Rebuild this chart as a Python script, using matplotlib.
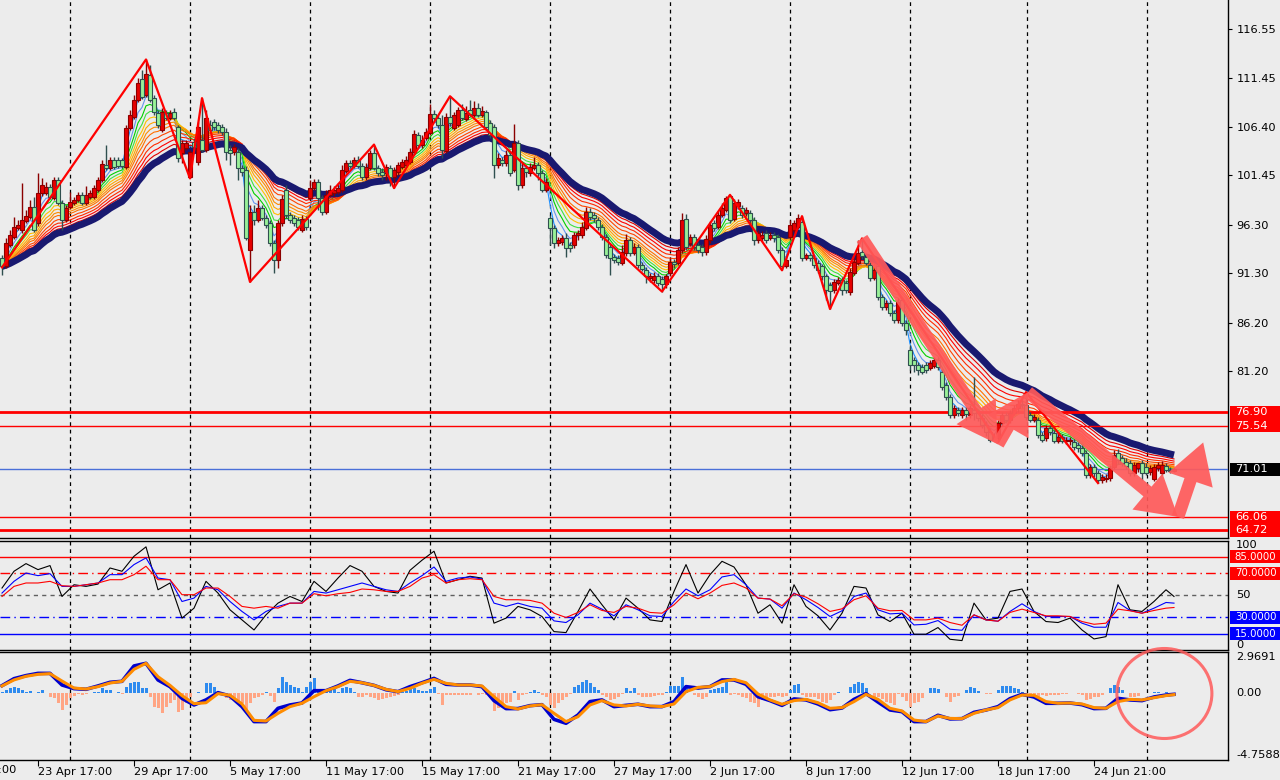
import numpy as np
import pandas as pd
import matplotlib
matplotlib.use('Agg')
import matplotlib.pyplot as plt
import matplotlib.transforms as mtransforms
from matplotlib.patches import FancyArrowPatch, Ellipse, Rectangle

# ---- H4 price bars, oldest first ----
opens = [
    92.9, 92.0, 94.2, 95.0, 96.0, 95.8, 96.7, 97.1, 98.1, 96.5,
    99.6, 99.6, 100.2, 99.1, 100.9, 98.6, 96.8, 98.1, 98.6, 98.9,
    99.4, 98.6, 99.2, 99.2, 99.9, 100.9, 102.5, 102.2, 103.0, 103.0,
    103.0, 102.3, 106.3, 107.5, 109.2, 111.4, 109.7, 111.8, 109.4, 107.9,
    106.1, 107.9, 107.4, 108.0, 106.4, 103.7, 104.2, 101.2, 104.9, 102.8,
    105.1, 104.0, 106.6, 106.9, 106.6, 106.4, 105.9, 104.0, 103.8, 103.8,
    102.2, 102.0, 93.7, 97.6, 96.8, 98.0, 97.0, 96.5, 94.4, 92.7,
    96.5, 99.9, 97.3, 97.0, 96.8, 95.8, 96.9, 99.1, 100.1, 100.7,
    99.1, 97.6, 99.4, 99.6, 99.7, 99.9, 101.9, 102.7, 102.4, 103.0,
    102.4, 101.2, 102.2, 103.7, 102.2, 101.8, 101.7, 102.2, 101.2, 101.8,
    102.3, 102.5, 102.8, 103.8, 105.6, 104.6, 105.3, 105.8, 107.8, 107.4,
    106.6, 103.9, 107.5, 106.3, 106.6, 108.2, 107.2, 108.2, 107.7, 108.4,
    107.7, 108.0, 106.8, 106.4, 102.5, 103.0, 102.7, 103.5, 102.0, 104.8,
    100.4, 102.2, 101.7, 102.2, 102.5, 101.7, 99.9, 97.0, 96.0, 94.4,
    94.5, 94.9, 94.2, 94.2, 95.2, 95.3, 96.0, 97.6, 97.3, 96.8,
    96.1, 95.0, 94.0, 93.0, 92.9, 92.4, 93.4, 94.7, 93.4, 94.0,
    92.2, 91.6, 90.8, 90.6, 91.0, 90.7, 90.2, 91.3, 92.5, 92.4,
    93.7, 96.9, 94.4, 95.0, 94.2, 94.0, 93.5, 94.7, 96.5, 96.1,
    97.3, 97.8, 99.3, 96.9, 98.2, 98.0, 97.5, 97.5, 96.8, 94.7,
    94.9, 95.5, 94.9, 95.3, 95.0, 93.7, 92.0, 95.0, 95.8, 96.1,
    96.6, 92.9, 93.2, 92.9, 92.4, 92.0, 91.0, 90.1, 89.6, 90.3,
    90.6, 90.3, 89.4, 91.3, 92.4, 93.5, 93.0, 92.2, 90.8, 92.0,
    88.8, 87.8, 88.2, 87.2, 86.5, 88.5, 86.2, 83.4, 82.3, 81.8,
    81.6, 81.8, 81.5, 81.7, 82.3, 81.1, 79.7, 78.5, 76.6, 77.2,
    76.6, 77.2, 76.6, 77.2, 76.8, 76.3, 75.6, 74.9, 74.1, 74.3,
    75.8, 76.6, 76.1, 76.8, 77.4, 77.8, 77.7, 76.6, 76.1, 76.1,
    74.6, 74.3, 75.3, 74.8, 74.0, 74.4, 74.0, 74.0, 73.8, 73.5,
    73.2, 72.7, 70.4, 71.3, 70.6, 69.9, 70.0, 70.1, 71.3, 72.7,
    72.2, 71.8, 71.7, 70.6, 71.2, 71.7, 71.3, 70.7, 70.0, 71.2,
    70.6, 71.4, 71.0, 70.8]
highs = [
    93.2, 94.9, 95.8, 97.1, 96.8, 100.6, 97.8, 98.9, 99.2, 101.7,
    101.1, 100.7, 100.5, 101.2, 101.2, 98.9, 98.4, 99.7, 99.2, 99.7,
    99.7, 100.3, 99.9, 100.4, 101.2, 103.0, 104.6, 103.3, 103.3, 103.3,
    103.2, 106.6, 108.2, 109.7, 111.5, 112.3, 113.4, 112.8, 109.7, 108.2,
    108.4, 108.2, 108.2, 108.4, 106.6, 105.1, 105.1, 104.0, 105.3, 106.9,
    109.4, 108.2, 107.1, 107.2, 106.9, 106.7, 106.3, 104.6, 104.7, 104.2,
    102.5, 102.4, 98.4, 98.4, 98.9, 98.4, 97.3, 96.8, 94.7, 96.8,
    99.4, 100.4, 97.6, 97.3, 97.1, 97.3, 97.2, 100.9, 101.0, 101.0,
    99.4, 99.9, 100.4, 100.3, 100.6, 102.5, 103.0, 103.0, 103.3, 103.4,
    102.7, 102.7, 104.0, 104.6, 102.5, 102.2, 102.6, 102.5, 102.3, 102.8,
    103.1, 103.4, 104.2, 106.1, 105.9, 105.6, 106.3, 108.8, 108.2, 107.7,
    107.7, 107.9, 109.6, 108.0, 108.5, 108.8, 108.6, 109.2, 109.1, 108.9,
    108.6, 108.2, 107.1, 106.7, 103.7, 103.3, 104.0, 103.8, 106.7, 105.1,
    102.7, 102.5, 102.7, 103.3, 102.8, 102.0, 101.1, 97.3, 96.3, 95.0,
    95.3, 95.5, 94.5, 95.6, 95.8, 96.6, 98.1, 98.0, 97.6, 97.1,
    96.4, 95.4, 94.3, 93.3, 93.2, 94.2, 95.4, 95.0, 94.4, 94.3,
    92.5, 91.9, 91.3, 91.4, 91.3, 91.0, 91.2, 92.9, 92.8, 94.0,
    97.5, 97.4, 95.4, 95.4, 94.5, 94.3, 95.3, 96.7, 96.8, 97.7,
    98.6, 99.3, 99.4, 99.0, 99.0, 98.4, 98.1, 97.8, 97.1, 95.8,
    95.7, 95.8, 95.6, 95.6, 95.4, 94.0, 93.0, 96.8, 96.8, 97.4,
    97.2, 93.4, 93.5, 93.2, 92.7, 92.3, 91.2, 90.4, 90.7, 90.9,
    90.9, 90.6, 91.8, 92.9, 94.7, 94.9, 93.3, 92.5, 91.9, 92.3,
    89.1, 88.5, 88.5, 87.5, 88.7, 88.8, 86.5, 83.9, 82.6, 82.1,
    81.9, 82.1, 82.3, 82.6, 82.6, 81.4, 80.1, 78.8, 77.7, 77.5,
    77.5, 77.5, 77.7, 80.6, 77.2, 76.7, 76.0, 75.3, 74.8, 76.1,
    76.9, 76.9, 77.2, 77.7, 78.2, 78.4, 79.0, 76.9, 76.7, 76.4,
    74.9, 75.6, 75.6, 75.1, 74.9, 74.7, 74.4, 74.4, 74.2, 73.8,
    73.5, 73.0, 71.6, 71.6, 70.9, 70.5, 70.5, 71.5, 73.0, 73.1,
    72.5, 72.2, 72.0, 71.8, 71.7, 72.0, 71.7, 71.5, 71.6, 71.8,
    71.9, 71.7, 71.3, 71.2]
lows = [
    91.1, 91.8, 94.0, 94.8, 95.8, 95.5, 96.5, 96.9, 95.6, 96.2,
    99.3, 99.4, 99.0, 98.9, 98.4, 95.8, 96.6, 97.9, 98.4, 98.7,
    98.4, 98.4, 99.0, 99.0, 99.7, 100.7, 102.0, 102.0, 102.1, 102.2,
    102.2, 102.1, 106.1, 107.2, 109.0, 109.3, 109.5, 109.0, 107.7, 106.3,
    105.9, 107.1, 107.1, 107.1, 102.8, 102.7, 104.0, 101.1, 104.0, 102.5,
    103.8, 103.8, 105.9, 106.1, 105.8, 105.6, 103.0, 102.5, 103.5, 100.9,
    101.4, 94.7, 90.4, 96.3, 96.6, 96.8, 96.0, 94.1, 91.3, 91.8,
    96.2, 97.0, 96.5, 96.2, 95.8, 95.6, 95.8, 98.9, 99.9, 97.8,
    97.3, 97.4, 99.2, 99.3, 99.5, 99.7, 101.7, 102.2, 102.2, 102.2,
    100.9, 100.9, 102.0, 102.0, 101.4, 100.9, 100.9, 100.3, 100.1, 101.5,
    102.1, 102.3, 102.6, 103.5, 104.2, 104.2, 105.1, 105.6, 107.0, 106.3,
    103.2, 103.7, 106.5, 106.1, 106.4, 107.1, 107.0, 107.6, 107.5, 107.5,
    107.5, 106.1, 105.3, 101.1, 102.2, 102.4, 102.4, 101.4, 101.8, 99.9,
    100.1, 101.2, 101.4, 102.0, 100.9, 99.7, 99.7, 94.2, 93.9, 94.1,
    94.2, 93.0, 93.5, 93.9, 94.7, 94.9, 95.8, 96.8, 96.6, 95.8,
    94.7, 92.9, 91.1, 92.4, 92.1, 92.1, 93.1, 93.1, 93.2, 91.8,
    91.5, 90.3, 90.4, 90.3, 90.0, 89.4, 89.8, 91.0, 91.8, 92.1,
    93.4, 93.7, 94.1, 93.7, 93.4, 93.1, 93.2, 94.4, 95.7, 95.9,
    97.1, 97.6, 96.5, 96.7, 97.9, 97.0, 97.2, 96.3, 94.2, 94.4,
    94.6, 94.4, 94.7, 94.5, 93.4, 91.6, 91.8, 94.7, 95.6, 95.9,
    92.6, 92.7, 92.6, 91.8, 91.3, 90.6, 88.5, 87.6, 89.3, 90.1,
    89.0, 89.3, 89.0, 91.1, 92.1, 92.8, 92.1, 90.5, 90.6, 88.5,
    87.5, 87.5, 86.9, 86.2, 86.2, 85.8, 84.9, 81.3, 81.1, 80.8,
    80.9, 81.0, 81.3, 81.5, 81.3, 79.2, 78.2, 76.3, 76.3, 76.5,
    76.3, 76.1, 76.3, 76.1, 76.0, 75.3, 74.5, 73.8, 73.9, 73.8,
    75.5, 75.8, 75.8, 76.6, 77.0, 77.4, 76.1, 75.9, 75.9, 74.3,
    73.8, 74.0, 74.6, 73.7, 73.7, 73.7, 73.6, 73.5, 73.0, 72.8,
    72.4, 70.1, 70.1, 70.2, 69.6, 69.6, 69.7, 69.8, 71.1, 71.6,
    71.4, 71.1, 70.3, 70.3, 70.7, 69.9, 70.4, 70.4, 69.8, 70.8,
    70.4, 70.7, 70.6, 70.7]
closes = [
    92.0, 94.4, 95.3, 96.1, 96.3, 96.8, 97.2, 98.1, 95.8, 99.6,
    100.4, 100.2, 99.2, 100.9, 98.6, 96.8, 98.0, 98.7, 98.9, 99.4,
    98.6, 99.4, 99.6, 100.1, 100.9, 102.6, 102.2, 103.0, 102.3, 102.4,
    102.4, 106.3, 107.7, 109.2, 111.0, 109.5, 111.9, 109.2, 108.0, 106.6,
    108.0, 107.4, 107.9, 107.4, 103.2, 104.8, 104.8, 103.8, 104.3, 106.4,
    104.0, 107.4, 106.1, 106.4, 106.1, 105.9, 103.8, 103.7, 104.3, 102.2,
    101.8, 94.9, 97.6, 96.8, 98.0, 97.0, 96.3, 94.4, 92.7, 96.5,
    99.0, 97.3, 96.8, 96.5, 96.1, 96.9, 96.1, 100.1, 100.7, 99.1,
    97.6, 99.4, 99.9, 99.9, 100.1, 102.0, 102.7, 102.4, 103.0, 102.4,
    101.2, 102.3, 103.7, 102.2, 101.7, 101.5, 102.3, 101.2, 102.0, 102.5,
    102.8, 103.0, 103.8, 105.7, 104.6, 105.1, 105.9, 107.8, 107.3, 106.6,
    104.0, 107.5, 106.8, 107.7, 108.2, 107.4, 107.9, 107.8, 108.4, 107.7,
    108.1, 106.4, 105.6, 102.5, 103.2, 102.7, 103.5, 101.7, 104.8, 100.4,
    102.2, 101.8, 102.3, 102.5, 101.7, 99.9, 100.7, 96.0, 94.4, 94.7,
    94.9, 93.9, 93.9, 95.3, 95.5, 96.1, 97.6, 97.1, 97.0, 96.1,
    95.0, 93.2, 92.9, 92.7, 92.5, 93.5, 94.7, 93.4, 94.0, 92.2,
    91.7, 91.0, 91.0, 91.0, 90.3, 90.2, 91.0, 92.5, 92.3, 93.7,
    96.8, 94.0, 95.0, 94.0, 93.7, 93.5, 94.8, 96.3, 96.0, 97.3,
    98.0, 99.1, 96.8, 98.6, 98.7, 97.3, 97.8, 96.8, 94.7, 95.5,
    95.3, 94.7, 95.3, 94.9, 93.7, 92.0, 92.7, 96.3, 96.5, 97.0,
    92.9, 93.2, 92.9, 92.2, 91.6, 91.0, 89.6, 89.5, 90.4, 90.6,
    89.6, 89.6, 91.4, 92.5, 93.4, 93.1, 92.4, 90.8, 91.6, 88.8,
    87.8, 88.2, 87.2, 86.5, 88.3, 86.2, 85.4, 81.8, 81.8, 81.3,
    81.1, 81.3, 82.0, 82.3, 81.6, 79.5, 78.5, 76.6, 77.4, 76.8,
    77.2, 76.7, 77.4, 76.8, 76.3, 75.6, 74.9, 74.1, 74.4, 75.8,
    76.6, 76.1, 76.8, 77.4, 77.8, 77.7, 76.4, 76.1, 76.4, 74.6,
    74.1, 75.3, 74.9, 74.0, 74.4, 74.0, 74.1, 74.1, 73.3, 73.2,
    72.7, 70.4, 71.3, 70.6, 69.9, 70.2, 70.1, 71.2, 72.5, 72.0,
    71.7, 71.4, 70.6, 71.5, 71.7, 70.6, 70.6, 71.2, 71.3, 71.5,
    71.5, 71.0, 70.8, 71.01]

# zigzag pivots (bar index, price)
zz_bar = [0, 36, 47, 50, 62, 93, 98, 112, 165, 182, 195, 200, 207, 215, 249, 256, 274]
zz_price = [91.9, 113.4, 101.1, 109.4, 90.4, 104.6, 100.1, 109.6, 89.4, 99.4, 91.6, 97.2,
            87.6, 94.9, 73.8, 79.0, 69.6]

# hand-drawn arrows (bar, price)
arrow_from = [(215, 94.9), (249, 73.6), (256.5, 79.0), (294, 66.1)]
arrow_to = [(249, 73.6), (256.5, 79.0), (294, 66.1), (300.3, 73.8)]

levels = [76.90, 75.54, 66.06, 64.72]
level_width = [2.0, 1.0, 1.0, 2.0]
last_price = 71.01
price_ticks = [116.55, 111.45, 106.40, 101.45, 96.30, 91.30, 86.20, 81.20]

ribbon_periods = [3, 5, 7, 9, 11, 13, 15, 17, 20, 23, 26, 29]
ribbon_colors = ['#1E90FF', '#6495ED', '#00D000', '#40E040', '#FFC000', '#FFA500',
                 '#FF8C00', '#FF7000', '#FF4500', '#FF2A00', '#FF0000', '#E00000']
navy_period = 34

grid_bars = [17, 47, 77, 107, 137, 167, 197, 227, 256.25, 286.25]
tick_bars = [9, 33, 57, 81, 105, 129, 153, 177, 201, 225, 249, 273]
tick_text = ['23 Apr 17:00', '29 Apr 17:00', '5 May 17:00', '11 May 17:00', '15 May 17:00',
             '21 May 17:00', '27 May 17:00', '2 Jun 17:00', '8 Jun 17:00', '12 Jun 17:00',
             '18 Jun 17:00', '24 Jun 21:00']

# oscillators, sampled every 3 bars
osc_bar = list(range(0, 292, 3)) + [293]
rsi_black = [
    56.6, 71.9, 78.9, 73.4, 77.1, 48.9, 59.6, 58.1, 60.2, 74.9, 71.9, 85.6, 94.2, 55.0, 61.2,
    29.1, 38.2, 62.7, 52.0, 36.7, 27.5, 18.3, 32.1, 42.8, 48.9, 44.3, 62.7, 53.5, 65.7, 77.1,
    71.9, 58.1, 53.5, 52.0,
    72.8, 82.0, 90.2, 61.2, 64.2, 67.3, 65.7, 24.5, 29.1, 39.8, 36.7, 30.6, 16.8, 15.9, 35.2,
    55.7, 41.3, 27.5, 47.4, 38.2, 27.5, 26.0, 53.5, 78.0, 52.0, 68.8, 81.0, 75.8, 59.6, 33.6,
    41.3, 24.5, 59.6, 39.8, 31.2,
    18.3, 33.6, 58.1, 56.6, 32.1, 26.0, 33.6, 14.4, 14.4, 20.5, 9.8, 8.6, 42.8, 27.5, 29.1,
    53.5, 55.7, 35.2, 26.0, 25.1, 29.1, 18.3, 10.1, 12.2, 59.6, 36.7, 35.2, 44.3, 55.0, 48.9]
rsi_blue = [
    52.0, 62.7, 70.3, 67.9, 69.7, 58.1, 58.1, 59.6, 61.2, 68.8, 68.8, 78.0, 84.1, 65.7, 64.2,
    44.3, 47.4, 58.1, 55.0, 44.3, 35.2, 27.5, 35.2, 39.8, 42.8, 42.8, 53.5, 52.0, 55.0, 58.1,
    61.2, 58.1, 55.0, 53.5,
    61.2, 67.9, 75.8, 62.7, 65.7, 66.7, 64.8, 42.8, 39.8, 42.8, 39.8, 38.2, 26.6, 25.1, 32.1,
    42.8, 37.3, 31.2, 41.3, 36.7, 31.2, 30.6, 44.3, 55.7, 49.5, 55.0, 66.7, 68.8, 59.6, 47.4,
    46.5, 38.2, 52.0, 45.9, 38.8,
    30.6, 35.8, 48.9, 52.0, 36.7, 33.0, 33.6, 22.9, 23.5, 26.9, 19.0, 18.0, 32.1, 27.5, 26.3,
    35.2, 42.2, 35.2, 30.6, 30.6, 30.6, 24.5, 20.8, 20.8, 43.4, 36.1, 33.6, 38.2, 43.4, 42.8]
rsi_red = [
    48.9, 58.1, 61.2, 61.2, 62.7, 58.7, 58.1, 59.6, 61.2, 64.2, 64.2, 68.8, 76.5, 64.2, 64.2,
    50.5, 50.5, 56.6, 56.6, 48.9, 39.8, 38.2, 39.8, 38.2, 42.8, 42.8, 51.4, 49.5, 51.4, 52.6,
    55.7, 55.0, 53.5, 53.5,
    58.1, 65.7, 68.8, 61.2, 64.2, 65.1, 64.2, 48.9, 45.9, 45.9, 45.3, 42.8, 33.6, 29.7, 34.3,
    41.3, 36.1, 34.3, 39.8, 38.2, 34.3, 33.6, 41.3, 52.0, 46.8, 52.0, 59.0, 61.2, 56.6, 47.4,
    46.5, 40.4, 51.4, 48.3, 42.2,
    35.2, 37.6, 45.9, 49.5, 38.2, 35.8, 36.1, 27.5, 27.5, 29.1, 25.1, 22.6, 32.1, 27.5, 26.3,
    34.3, 37.3, 34.3, 31.2, 31.2, 30.6, 26.0, 23.5, 24.5, 37.3, 35.8, 33.6, 36.1, 38.2, 38.8]
rsi_levels = [85, 70, 30, 15]

macd_main = [
    0.56, 1.06, 1.28, 1.44, 1.44, 0.61, 0.35, 0.30, 0.54, 0.80, 0.87, 1.97, 2.16, 0.97, 0.49,
    -0.35, -0.82, -0.46, 0.06, -0.18, -0.94, -2.01, -2.01, -1.06, -0.82, -0.68, 0.20, 0.20,
    0.54, 0.94, 0.77, 0.58, 0.27, 0.13,
    0.49, 0.77, 1.08, 0.66, 0.61, 0.61, 0.49, -0.51, -1.08, -1.08, -0.87, -0.80, -1.85, -2.13,
    -1.54, -0.58, -0.46, -0.94, -0.85, -0.77, -0.94, -0.94, -0.58, 0.49, 0.39, 0.49, 0.97,
    0.97, 0.66, -0.23, -0.51, -0.85, -0.39, -0.46, -0.75,
    -1.16, -1.04, -0.42, -0.01, -0.61, -1.18, -1.30, -2.01, -2.01, -1.56, -1.82, -1.80, -1.35,
    -1.18, -0.94, -0.37, -0.06, -0.25, -0.70, -0.70, -0.68, -0.80, -1.08, -1.06, -0.35, -0.46,
    -0.51, -0.25, -0.11, -0.06]
macd_signal = [
    0.54, 0.97, 1.23, 1.37, 1.42, 0.89, 0.39, 0.32, 0.49, 0.75, 0.87, 1.73, 2.16, 1.20, 0.58,
    -0.15, -0.73, -0.66, -0.01, -0.13, -0.75, -1.92, -1.97, -1.42, -0.94, -0.70, -0.23, 0.20,
    0.49, 0.87, 0.77, 0.58, 0.30, 0.13,
    0.37, 0.73, 1.01, 0.73, 0.61, 0.61, 0.54, -0.23, -0.94, -1.11, -0.89, -0.80, -1.42, -2.01,
    -1.66, -0.82, -0.51, -0.82, -0.89, -0.77, -0.89, -0.94, -0.75, 0.13, 0.44, 0.49, 0.85,
    1.01, 0.77, -0.04, -0.46, -0.77, -0.51, -0.42, -0.66,
    -1.06, -1.01, -0.58, -0.06, -0.42, -1.06, -1.25, -1.90, -2.01, -1.61, -1.78, -1.80, -1.42,
    -1.18, -1.01, -0.46, -0.11, -0.13, -0.58, -0.70, -0.68, -0.75, -1.01, -1.06, -0.58, -0.42,
    -0.46, -0.30, -0.15, -0.08]
macd_hist = [
    0.13, 0.25, 0.42, 0.49, 0.37, 0.25, 0.13, 0.18, 0.01, 0.13,
    0.25, 0.01, -0.23, -0.35, -0.70, -1.18, -0.82, -0.35, -0.18, -0.06,
    -0.11, -0.04, 0.06, 0.13, 0.13, 0.37, 0.25, 0.25, 0.06, 0.13,
    -0.04, 0.49, 0.73, 0.85, 0.85, 0.37, 0.37, -0.23, -0.94, -1.06,
    -1.42, -0.94, -0.70, -0.46, -1.30, -1.18, -0.70, -0.23, 0.01, 0.13,
    0.06, 0.73, 0.73, 0.49, 0.13, -0.11, -0.35, -0.46, -0.42, -0.58,
    -0.70, -1.18, -0.70, -0.35, -0.23, -0.11, 0.13, -0.18, -0.58, 0.37,
    1.16, 0.85, 0.61, 0.49, 0.37, 0.13, 0.49, 0.85, 1.08, 0.25,
    0.13, 0.13, 0.25, 0.30, 0.13, 0.37, 0.49, 0.37, 0.13, -0.23,
    -0.27, -0.11, -0.23, -0.35, -0.46, -0.42, -0.35, -0.23, -0.18, -0.11,
    0.13, 0.20, 0.37, 0.37, 0.25, 0.20, 0.20, 0.30, 0.49, -0.04,
    -0.82, -0.11, -0.11, -0.11, -0.11, -0.11, -0.11, -0.11, 0.01, -0.11,
    -0.06, -0.11, -0.35, -1.23, -1.06, -0.82, -0.70, -0.58, 0.18, -0.46,
    -0.11, -0.04, 0.13, 0.25, 0.13, -0.11, -0.23, -0.82, -1.06, -0.70,
    -0.46, -0.23, -0.04, 0.49, 0.61, 0.85, 0.97, 0.73, 0.49, 0.25,
    -0.11, -0.23, -0.46, -0.42, -0.23, -0.04, 0.37, 0.20, 0.37, -0.11,
    -0.23, -0.27, -0.23, -0.18, -0.13, -0.11, 0.13, 0.54, 0.54, 0.54,
    1.20, 0.37, 0.06, -0.11, -0.23, -0.42, -0.23, 0.25, 0.30, 0.37,
    0.44, 0.85, -0.11, -0.04, -0.11, -0.23, -0.35, -0.58, -0.70, -0.94,
    -0.46, -0.35, -0.23, -0.23, -0.18, -0.23, -0.18, 0.25, 0.61, 0.68,
    -0.11, -0.23, -0.27, -0.23, -0.42, -0.58, -0.70, -0.46, -0.11, 0.13,
    0.06, 0.06, 0.49, 0.68, 0.85, 0.73, 0.37, 0.06, -0.23, -0.23,
    -0.42, -0.58, -0.70, -0.82, -0.04, -0.23, -0.51, -0.94, -0.70, -0.58,
    -0.35, 0.06, 0.37, 0.37, 0.30, 0.06, -0.23, -0.58, -0.23, -0.18,
    0.06, 0.25, 0.49, 0.37, 0.20, 0.06, -0.04, -0.04, 0.06, 0.25,
    0.54, 0.54, 0.54, 0.37, 0.30, 0.13, -0.11, -0.23, -0.23, -0.23,
    -0.13, -0.18, -0.11, -0.11, -0.08, -0.06, -0.04, 0.06, 0.04, -0.04,
    -0.11, -0.46, -0.42, -0.23, -0.23, -0.11, 0.06, 0.37, 0.61, 0.49,
    0.25, 0.06, -0.23, -0.23, -0.18, 0.01, 0.04, 0.06, 0.13, 0.13,
    0.06, 0.11, 0.06, 0.01]
macd_max, macd_min = 2.9691, -4.7588

# ---------------------------------------------------------------
bg = '#ECECEC'
n = min(len(opens), len(highs), len(lows), len(closes))
o = np.array(opens[:n]); h = np.array(highs[:n]); l = np.array(lows[:n]); c = np.array(closes[:n])
x = np.arange(n)

fig = plt.figure(figsize=(12.8, 7.8), dpi=100)
fig.patch.set_facecolor(bg)
W = 1228 / 1280
ax1 = fig.add_axes([0, 1 - 538 / 780, W, 538 / 780])
ax2 = fig.add_axes([0, 1 - 650 / 780, W, 109.5 / 780])
ax3 = fig.add_axes([0, 20 / 780, W, 108 / 780])

for ax in (ax1, ax2, ax3):
    ax.set_facecolor(bg)
    ax.set_xlim(-0.5, 306.5)
    ax.spines['left'].set_visible(False)
    for s in ('right', 'bottom', 'top'):
        ax.spines[s].set_color('black')
        ax.spines[s].set_linewidth(1.0)
    for g in grid_bars:
        ax.axvline(g, color='black', lw=0.9, ls=(0, (3, 3)), zorder=1)
ax1.spines['top'].set_visible(False)


def tag(ax, y, hh, txt, fc, size=8.2):
    tr = mtransforms.blended_transform_factory(ax.transAxes, ax.transData)
    ax.add_patch(Rectangle((1.0016, y - hh / 2), 0.05, hh, transform=tr, fc=fc, ec='none',
                           clip_on=False, zorder=10))
    ax.text(1.0055, y, txt, transform=tr, color='white', fontsize=size, va='center',
            ha='left', clip_on=False, zorder=11)


def side_text(ax, y, txt, va='center'):
    tr = mtransforms.blended_transform_factory(ax.transAxes, ax.transData)
    ax.text(1.0065, y, txt, transform=tr, color='black', fontsize=8.2, va=va, ha='left',
            clip_on=False)


# ---- main price window ----
ax1.set_ylim(63.92, 119.55)
s = pd.Series(c)
for p, col in zip(ribbon_periods, ribbon_colors):
    ax1.plot(x, s.ewm(span=p, adjust=False).mean(), color=col, lw=0.8, zorder=2)
ax1.plot(x, s.ewm(span=navy_period, adjust=False).mean(), color='#191970', lw=5,
         zorder=3, solid_capstyle='butt')

for lv, lw in zip(levels, level_width):
    ax1.axhline(lv, color='#FF0000', lw=lw, zorder=3.5)
ax1.axhline(last_price, color='#4A6FD8', lw=1, zorder=3.5)

up = c >= o
lo = np.minimum(o, c)
bh = np.maximum(np.abs(c - o), 0.05)
ax1.vlines(x[up], l[up], h[up], color='#8B0000', lw=1, zorder=4)
ax1.vlines(x[~up], l[~up], h[~up], color='#2F4F4F', lw=1, zorder=4)
ax1.bar(x[up], bh[up], bottom=lo[up], width=0.78, color='#E60000', edgecolor='#8B0000',
        linewidth=0.8, zorder=5)
ax1.bar(x[~up], bh[~up], bottom=lo[~up], width=0.78, color='#98F098', edgecolor='#2F4F4F',
        linewidth=0.8, zorder=5)

ax1.plot(zz_bar, zz_price, color='#FF0000', lw=1.6, zorder=6)

for a, b in zip(arrow_from, arrow_to):
    ax1.add_patch(FancyArrowPatch(a, b, arrowstyle='simple,head_length=1.1,head_width=1.3,tail_width=0.35',
                                  mutation_scale=26, color='#FF5A5A', alpha=0.92, lw=0,
                                  shrinkA=0, shrinkB=0, zorder=8, clip_on=False))

ax1.set_xticks([])
ax1.set_yticks(price_ticks)
ax1.set_yticklabels([f'{v:.2f}' for v in price_ticks])
ax1.yaxis.tick_right()
ax1.tick_params(axis='y', length=3, pad=3, labelsize=8.2)
for lv in levels:
    tag(ax1, lv, 1.34, f'{lv:.2f}', '#FF0000')
tag(ax1, last_price, 1.34, f'{last_price:.2f}', '#000000')

# ---- RSI window ----
ax2.set_ylim(0, 100)
ax2.axhline(85, color='#FF0000', lw=1, zorder=1.5)
ax2.axhline(70, color='#FF0000', lw=1, ls=(0, (7, 3, 1, 3)), zorder=1.5)
ax2.axhline(50, color='#606060', lw=1, ls=(0, (3, 3)), zorder=1.5)
ax2.axhline(30, color='#0000FF', lw=1, ls=(0, (7, 3, 1, 3)), zorder=1.5)
ax2.axhline(15, color='#0000FF', lw=1, zorder=1.5)
ax2.plot(osc_bar, rsi_black, color='black', lw=0.8, zorder=3)
ax2.plot(osc_bar, rsi_blue, color='#0000FF', lw=0.8, zorder=3)
ax2.plot(osc_bar, rsi_red, color='#FF0000', lw=0.8, zorder=3)
ax2.set_xticks([]); ax2.set_yticks([])
side_text(ax2, 100, '100', va='top')
side_text(ax2, 50, '50')
side_text(ax2, 0, '0', va='bottom')
for lv in rsi_levels:
    tag(ax2, lv, 12, f'{lv:.4f}', '#FF0000' if lv > 50 else '#0000FF', size=7.3)

# ---- MACD window ----
ax3.set_ylim(macd_min, macd_max)
hist = np.array(macd_hist[:n])
ax3.bar(x[:len(hist)], hist, width=0.75, color=np.where(hist >= 0, '#2E8BEF', '#FFA584'),
        zorder=2)
ax3.plot(osc_bar, macd_main, color='#0000CD', lw=2.6, zorder=3)
ax3.plot(osc_bar, macd_signal, color='#FF8C00', lw=2.2, zorder=4)
ax3.add_patch(Ellipse((290.6, 0.0), 23.75, 6.44, fill=False, ec='#FF5A5A', lw=2.2,
                      alpha=0.85, clip_on=False, zorder=9))
ax3.set_yticks([])
side_text(ax3, macd_max, f'{macd_max:.4f}', va='top')
side_text(ax3, 0, '0.00')
side_text(ax3, macd_min, f'{macd_min:.4f}', va='bottom')

ax3.set_xticks(tick_bars)
ax3.set_xticklabels(tick_text, fontsize=8.2)
for lab in ax3.get_xticklabels():
    lab.set_horizontalalignment('left')
ax3.tick_params(axis='x', length=4, pad=1)
ax3.text(-15, -0.045, '17 Apr 17:00', transform=mtransforms.blended_transform_factory(
    ax3.transData, ax3.transAxes), va='top', ha='left', fontsize=8.2, clip_on=False)

fig.savefig('out.png', dpi=100, facecolor=bg)
